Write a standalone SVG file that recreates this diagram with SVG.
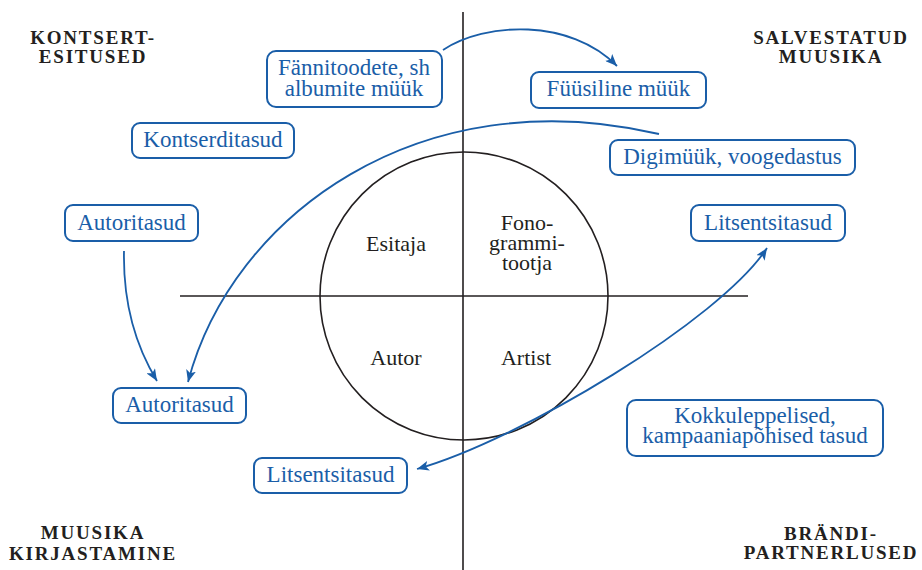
<svg xmlns="http://www.w3.org/2000/svg" width="922" height="570" viewBox="0 0 922 570">
<defs>
<style>
.bg{fill:#ffffff}
.ax{stroke:#231f20;stroke-width:1.6;fill:none}
.box{fill:#ffffff;stroke:#1a5ea8;stroke-width:2}
.bt{font-family:"Liberation Serif",serif;font-size:23px;fill:#1a5ea8;text-anchor:middle}
.ct{font-family:"Liberation Serif",serif;font-size:22px;fill:#231f20;text-anchor:middle}
.hd{font-family:"Liberation Serif",serif;font-size:19px;font-weight:bold;letter-spacing:1.8px;fill:#231f20;text-anchor:middle}
.cn{stroke:#1a5ea8;stroke-width:1.8;fill:none}
</style>
<marker id="ah" viewBox="0 0 12 10" refX="12" refY="5" markerWidth="12" markerHeight="10" markerUnits="userSpaceOnUse" orient="auto-start-reverse">
<path d="M0,0 L12,5 L0,10 L3,5 Z" fill="#1a5ea8"/>
</marker>
</defs>
<rect class="bg" x="0" y="0" width="922" height="570"/>

<g id="axes">
<line class="ax" x1="463" y1="12" x2="463" y2="570"/>
<line class="ax" x1="180" y1="296" x2="748" y2="296"/>
<circle class="ax" cx="464" cy="296" r="144"/>
</g>

<g id="quadrant-labels">
<text class="hd" x="93" y="44">KONTSERT-</text>
<text class="hd" x="93" y="63">ESITUSED</text>
<text class="hd" x="831" y="44">SALVESTATUD</text>
<text class="hd" x="831" y="63">MUUSIKA</text>
<text class="hd" x="93" y="539">MUUSIKA</text>
<text class="hd" x="93" y="560">KIRJASTAMINE</text>
<text class="hd" x="831" y="540">BRÄNDI-</text>
<text class="hd" x="831" y="559">PARTNERLUSED</text>
</g>

<g id="circle-labels">
<text class="ct" x="396" y="251">Esitaja</text>
<text class="ct" x="527" y="230">Fono-</text>
<text class="ct" x="527" y="250">grammi-</text>
<text class="ct" x="527" y="270">tootja</text>
<text class="ct" x="396" y="365">Autor</text>
<text class="ct" x="526" y="365">Artist</text>
</g>

<g id="connectors">
<path class="cn" d="M443,50 C485,22 570,18 617,66" marker-end="url(#ah)"/>
<path class="cn" d="M659,134 C420,78 232,215 188,382" marker-end="url(#ah)"/>
<path class="cn" d="M124,251 C123,300 135,345 157,381" marker-end="url(#ah)"/>
<path class="cn" d="M417,469 C520,440 720,320 767,248" marker-start="url(#ah)" marker-end="url(#ah)"/>
</g>

<g id="n-fannitooted">
<rect class="box" x="267" y="51" width="175" height="56" rx="9"/>
<text class="bt" x="354" y="75">Fännitoodete, sh</text>
<text class="bt" x="354" y="96">albumite müük</text>
</g>
<g id="n-kontserditasud">
<rect class="box" x="132" y="123" width="162" height="35" rx="8"/>
<text class="bt" x="213" y="147">Kontserditasud</text>
</g>
<g id="n-fuusiline">
<rect class="box" x="531" y="72" width="175" height="36" rx="8"/>
<text class="bt" x="618.5" y="96">Füüsiline müük</text>
</g>
<g id="n-digimuuk">
<rect class="box" x="610" y="140" width="245" height="35" rx="8"/>
<text class="bt" x="732.5" y="164">Digimüük, voogedastus</text>
</g>
<g id="n-autoritasud-top">
<rect class="box" x="65" y="205" width="133" height="36" rx="8"/>
<text class="bt" x="131.5" y="230">Autoritasud</text>
</g>
<g id="n-autoritasud-bottom">
<rect class="box" x="113" y="388" width="133" height="35" rx="8"/>
<text class="bt" x="179.5" y="412">Autoritasud</text>
</g>
<g id="n-litsentsitasud-left">
<rect class="box" x="254" y="458" width="153" height="35" rx="8"/>
<text class="bt" x="330.5" y="482">Litsentsitasud</text>
</g>
<g id="n-litsentsitasud-right">
<rect class="box" x="691" y="205" width="154" height="36" rx="8"/>
<text class="bt" x="768" y="230">Litsentsitasud</text>
</g>
<g id="n-kokkuleppelised">
<rect class="box" x="627" y="400" width="256" height="56" rx="9"/>
<text class="bt" x="755" y="423">Kokkuleppelised,</text>
<text class="bt" x="755" y="443">kampaaniapõhised tasud</text>
</g>
</svg>
